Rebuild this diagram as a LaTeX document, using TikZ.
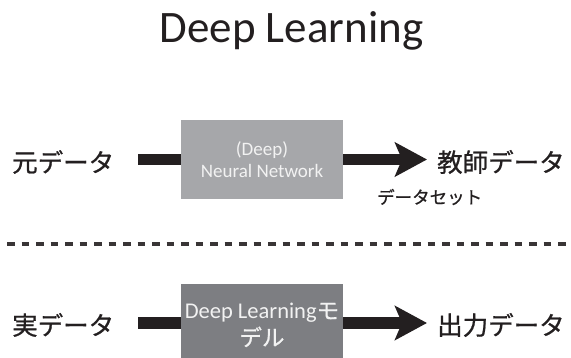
\documentclass[tikz,border=0pt]{standalone}
\usepackage{fontspec}
\setmainfont{Carlito}
\newfontfamily\jp[FakeBold=0.8]{Noto Sans CJK JP}
\usetikzlibrary{arrows.meta}
\definecolor{ink}{HTML}{231F20}
\definecolor{boxA}{HTML}{A6A7AA}
\definecolor{boxB}{HTML}{7D7E82}
\definecolor{boxtxt}{HTML}{F2F2F2}
\tikzset{
  lab/.style={inner sep=0pt, text=ink, font=\jp\fontsize{25.5pt}{28pt}\selectfont},
  procbox/.style={inner sep=0pt, minimum width=162pt, text=boxtxt, align=center},
  flow/.style={line width=11.5pt, draw=ink},
  flowarrow/.style={flow, -{Stealth[length=32pt, width=34pt, inset=7pt]}},
  sep/.style={line width=3.5pt, draw=ink!90, dash pattern=on 7.5pt off 7pt}
}
\begin{document}
\begin{tikzpicture}[x=1pt,y=-1pt]
\useasboundingbox (0,0) rectangle (571,358);
\clip (0,0) rectangle (571,358);
% title
\node[anchor=base, inner sep=0pt, text=ink, font=\fontsize{45pt}{50pt}\selectfont] (title) at (291.5,43) {Deep Learning};
% upper row
\node[procbox, fill=boxA, minimum height=79pt, font=\fontsize{19pt}{22pt}\selectfont] (nn) at (262,159.5) {(Deep)\\Neural Network};
\node[lab, anchor=west] (src1) at (12,162) {元データ};
\node[lab, anchor=west] (dst1) at (437,162) {教師データ};
\node[anchor=west, inner sep=0pt, text=ink, font=\jp\fontsize{17.5pt}{20pt}\selectfont] (ds) at (377,197) {データセット};
\draw[flow, shorten <=24pt] (src1.east |- nn.west) -- (nn.west);
\draw[flowarrow, shorten >=10pt] (nn.east) -- (nn.east -| dst1.west);
% separator
\coordinate (sepL) at (7,244);
\coordinate (sepR) at (575,244);
\draw[sep] (sepL) -- (sepR);
% lower row
\node[procbox, fill=boxB, minimum height=82pt, font=\fontsize{22.5pt}{27pt}\selectfont] (dl) at (262,325) {Deep Learning{\jp モ}\\{\jp デル}};
\node[lab, anchor=west] (src2) at (12,325) {実データ};
\node[lab, anchor=west] (dst2) at (437,325) {出力データ};
\coordinate (rowB) at (262,323);
\draw[flow, shorten <=24pt] (src2.east |- rowB) -- (dl.west |- rowB);
\draw[flowarrow, shorten >=10pt] (dl.east |- rowB) -- (dst2.west |- rowB);
\end{tikzpicture}
\end{document}
